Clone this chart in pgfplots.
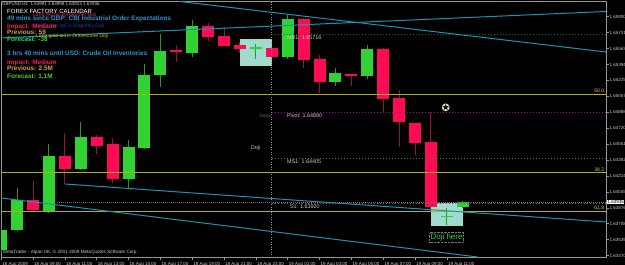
\documentclass[border=0pt]{standalone}
\usepackage{pgfplots}
\pgfplotsset{compat=1.18}
\usepackage{pgfplotstable}
\usepackage{fontspec}
\setmainfont{Liberation Sans}
\newfontfamily\symfont{DejaVu Sans}
\definecolor{bullc}{RGB}{50,210,50}
\definecolor{bearc}{RGB}{255,10,85}
\definecolor{bullw}{RGB}{40,150,40}
\definecolor{bearw}{RGB}{150,20,60}
\definecolor{framec}{RGB}{150,150,150}
\definecolor{trend}{RGB}{20,150,180}
\definecolor{fib}{RGB}{175,175,20}
\definecolor{fibtxt}{RGB}{200,200,60}
\definecolor{rectc}{RGB}{160,220,205}
\definecolor{calblue}{RGB}{40,150,210}
\definecolor{calred}{RGB}{240,30,80}
\definecolor{calgold}{RGB}{215,160,60}
\definecolor{calgreen}{RGB}{60,210,60}
\definecolor{lbl}{RGB}{200,200,200}
\definecolor{mrc}{RGB}{0,120,40}
\definecolor{pivc}{RGB}{170,0,170}
\definecolor{msc}{RGB}{60,120,110}
\definecolor{s1c}{RGB}{110,110,110}
\definecolor{bidc}{RGB}{130,90,100}
\definecolor{todayc}{RGB}{80,120,100}
\definecolor{starc}{RGB}{240,225,180}

\pgfplotstableread{
i o h l c
0 1.63430 1.63653 1.63409 1.63642
1 1.63642 1.64087 1.63631 1.63960
3 1.63843 1.64552 1.63822 1.64425
5 1.64288 1.64785 1.64277 1.64627
8 1.64182 1.64595 1.64076 1.64521
9 1.64510 1.65399 1.64500 1.65283
10 1.65283 1.65717 1.65156 1.65537
12 1.65516 1.65865 1.65473 1.65802
16 1.65568 1.65611 1.65452 1.65578
18 1.65473 1.65918 1.65452 1.65876
21 1.65209 1.65357 1.65166 1.65304
23 1.65272 1.65600 1.65241 1.65558
28 1.63785 1.63875 1.63695 1.63795
29 1.63886 1.63950 1.63875 1.63936
}\bull
\pgfplotstableread{
i o h l c
2 1.63960 1.64161 1.63843 1.63854
4 1.64425 1.64669 1.64129 1.64288
6 1.64627 1.64648 1.64447 1.64531
7 1.64552 1.64616 1.64140 1.64182
11 1.65547 1.65600 1.65420 1.65526
13 1.65802 1.65833 1.65643 1.65685
14 1.65696 1.65791 1.65590 1.65590
15 1.65600 1.65632 1.65516 1.65558
17 1.65569 1.65569 1.65463 1.65473
19 1.65876 1.65886 1.65357 1.65442
20 1.65452 1.65495 1.65092 1.65209
22 1.65293 1.65293 1.65166 1.65272
24 1.65558 1.65569 1.64881 1.65029
25 1.65039 1.65124 1.64521 1.64785
26 1.64775 1.64775 1.64436 1.64563
27 1.64574 1.64891 1.63854 1.63886
}\bear

\begin{document}
\begin{tikzpicture}
\useasboundingbox (0,0) rectangle (625pt,265pt);
\fill[black] (0,0) rectangle (625pt,265pt);
\begin{axis}[
  at={(1.2pt,7.5pt)}, anchor=south west,
  width=604.8pt, height=256.5pt, scale only axis,
  xmin=0, xmax=38, ymin=1.63351, ymax=1.66066,
  axis line style={draw=framec, line width=0.8pt},
  xtick={0,2,...,28},
  xticklabels={18 Aug 2009,18 Aug 09:00,18 Aug 11:00,18 Aug 13:00,18 Aug 15:00,18 Aug 17:00,18 Aug 19:00,18 Aug 21:00,18 Aug 23:00,19 Aug 01:00,19 Aug 03:00,19 Aug 05:00,19 Aug 07:00,19 Aug 09:00,19 Aug 11:00},
  ytick={1.65900,1.65731,1.65563,1.65394,1.65225,1.65057,1.64888,1.64720,1.64551,1.64382,1.64214,1.64045,1.63876,1.63708,1.63539,1.63370},
  yticklabels={1.65900,1.65731,1.65563,1.65394,1.65225,1.65057,1.64888,1.64720,1.64551,1.64382,1.64214,1.64045,1.63876,1.63708,1.63539,1.63370},
  xtick pos=bottom, ytick pos=right,
  tick align=outside, major tick length=3pt,
  tick style={draw=framec, line width=0.6pt},
  tick label style={font=\fontsize{4.5}{5}\selectfont, text=lbl, inner sep=0pt},
  xticklabel style={anchor=north west, xshift=1pt, yshift=-1.2pt},
  yticklabel style={anchor=west, xshift=0.5pt},
]
% rectangles
\addplot[fill=rectc, draw=none, forget plot] coordinates {(15,1.65378) (17,1.65378) (17,1.65664) (15,1.65664)};
\addplot[fill=rectc, draw=none, forget plot] coordinates {(27,1.63685) (29,1.63685) (29,1.63928) (27,1.63928)};
% wicks
\addplot[draw=none, forget plot, error bars/.cd, y dir=both, y explicit, error mark=none,
  error bar style={draw=bullw, line width=1pt}]
  table[x=i, y expr={(\thisrow{h}+\thisrow{l})/2}, y error expr={(\thisrow{h}-\thisrow{l})/2}] {\bull};
\addplot[draw=none, forget plot, error bars/.cd, y dir=both, y explicit, error mark=none,
  error bar style={draw=bearw, line width=1pt}]
  table[x=i, y expr={(\thisrow{h}+\thisrow{l})/2}, y error expr={(\thisrow{h}-\thisrow{l})/2}] {\bear};
% bodies
\addplot[draw=none, forget plot, error bars/.cd, y dir=both, y explicit, error mark=none,
  error bar style={draw=bullc, line width=12pt}]
  table[x=i, y expr={(\thisrow{o}+\thisrow{c})/2}, y error expr={(\thisrow{c}-\thisrow{o})/2}] {\bull};
\addplot[draw=none, forget plot, error bars/.cd, y dir=both, y explicit, error mark=none,
  error bar style={draw=bearc, line width=12pt}]
  table[x=i, y expr={(\thisrow{o}+\thisrow{c})/2}, y error expr={(\thisrow{o}-\thisrow{c})/2}] {\bear};
% vertical day separator
\addplot[framec, line width=0.7pt, dash pattern=on 1pt off 1.5pt] coordinates {(17,1.6335) (17,1.6607)};
% pivot levels
\addplot[mrc, line width=0.8pt, dash pattern=on 1pt off 2pt] coordinates {(17,1.65716) (38,1.65716)};
\addplot[pivc, line width=0.8pt, dash pattern=on 1pt off 2pt] coordinates {(17,1.64890) (38,1.64890)};
\addplot[msc, line width=0.8pt, dash pattern=on 1pt off 2pt] coordinates {(17,1.64405) (38,1.64405)};
\addplot[s1c, line width=0.8pt, dash pattern=on 1pt off 2pt] coordinates {(17,1.63920) (38,1.63920)};
\addplot[bidc, line width=0.6pt, dash pattern=on 1pt off 1pt] coordinates {(3.5,1.63936) (38,1.63936)};
% fibonacci levels
\addplot[fib, line width=0.9pt] coordinates {(0,1.65079) (38,1.65079)};
\addplot[fib, line width=0.9pt] coordinates {(0,1.64253) (38,1.64253)};
\addplot[fib, line width=0.9pt] coordinates {(0,1.63840) (38,1.63840)};
% trendlines
\addplot[trend, line width=1pt] coordinates {(11.23,1.66061) (38,1.65526)};
\addplot[trend, line width=1pt] coordinates {(0,1.65675) (38,1.65955)};
\addplot[trend, line width=1pt] coordinates {(0,1.63981) (29.95,1.63356)};
\addplot[trend, line width=1pt] coordinates {(4.01,1.64129) (38,1.63727)};
% labels inside chart
\node[anchor=west, inner sep=0pt, yshift=-3.3pt, font=\fontsize{5.4}{6}\selectfont, text=lbl] at (axis cs:17.95,1.65716) {MR1: 1.65716};
\node[anchor=west, inner sep=0pt, yshift=-3.3pt, font=\fontsize{5.4}{6}\selectfont, text=lbl] at (axis cs:17.95,1.64890) {Pivot: 1.64890};
\node[anchor=west, inner sep=0pt, yshift=-3.3pt, font=\fontsize{5.4}{6}\selectfont, text=lbl] at (axis cs:17.95,1.64405) {MS1: 1.64405};
\node[anchor=west, inner sep=0pt, yshift=-3.3pt, font=\fontsize{5.4}{6}\selectfont, text=lbl] at (axis cs:18.14,1.63920) {S1: 1.63920};
\node[inner sep=0pt, font=\fontsize{4.5}{5}\selectfont, text=todayc] at (axis cs:16.6,1.64849) {Today};
\node[inner sep=0pt, font=\fontsize{5.5}{6}\selectfont, text=lbl] at (axis cs:15.98,1.64510) {Doji};
\node[anchor=east, inner sep=0pt, font=\fontsize{5.1}{6}\selectfont, text=fibtxt] at (axis cs:37.9,1.65113) {50.0};
\node[anchor=east, inner sep=0pt, font=\fontsize{5.1}{6}\selectfont, text=fibtxt] at (axis cs:37.9,1.64277) {38.2};
\node[anchor=east, inner sep=0pt, font=\fontsize{5.1}{6}\selectfont, text=fibtxt] at (axis cs:37.9,1.63875) {61.8};
\node[inner sep=0pt, font=\symfont\fontsize{10}{10}\selectfont, text=starc] at (axis cs:27.94,1.64934) {✪};
\node[draw={rgb,255:red,120;green,120;blue,120}, densely dotted, inner sep=1pt, font=\fontsize{8}{9}\selectfont, text=bullc] at (axis cs:27.98,1.63568) {Doji here};
\end{axis}
% texts in image pixel coordinates (y from top)
\begin{scope}[shift={(0,265pt)}, every node/.style={inner sep=0pt, anchor=base west}]
\node[font=\fontsize{4.5}{5}\selectfont, text=lbl] at (2pt,-6pt) {GBPUSD,H1\ \ 1.63991 1.63998 1.63923 1.63936};
\node[font=\fontsize{5}{6}\selectfont, text=calred] at (33pt,-16.2pt) {Long red tail is Hammer Doji};
\node[font=\fontsize{6}{7}\selectfont, text=white] at (7pt,-14pt) {FOREX FACTORY CALENDAR};
\node[font=\bfseries\fontsize{6.4}{7}\selectfont, text=calblue] at (7pt,-20.7pt) {49 mins since GBP: CBI Industrial Order Expectations};
\node[font=\fontsize{5}{6}\selectfont, text={rgb,255:red,30;green,60;blue,200}] at (33pt,-27.8pt) {Long green tail is Dragonfly Doji};
\node[font=\bfseries\fontsize{6.4}{7}\selectfont, text=calred] at (7pt,-28.1pt) {Impact: Medium};
\node[font=\fontsize{5}{6}\selectfont, text={rgb,255:red,200;green,200;blue,40}] at (36pt,-37.8pt) {Long gold tail is Gravestone Doji};
\node[font=\bfseries\fontsize{6.4}{7}\selectfont, text=calgold] at (7pt,-34.7pt) {Previous: 59};
\node[font=\bfseries\fontsize{6.4}{7}\selectfont, text=calgreen] at (7pt,-41.7pt) {Forecast: -38};
\node[font=\bfseries\fontsize{6.4}{7}\selectfont, text=calblue] at (7pt,-55.7pt) {3 hrs 40 mins until USD: Crude Oil Inventories};
\node[font=\bfseries\fontsize{6.4}{7}\selectfont, text=calred] at (7pt,-64.1pt) {Impact: Medium};
\node[font=\bfseries\fontsize{6.4}{7}\selectfont, text=calgold] at (7pt,-70.7pt) {Previous: 2.5M};
\node[font=\bfseries\fontsize{6.4}{7}\selectfont, text=calgreen] at (7pt,-78.1pt) {Forecast: 1.1M};
\node[font=\fontsize{4.6}{5}\selectfont, text=lbl] at (3pt,-253.7pt) {MetaTrader - Alpari UK, © 2001-2009 MetaQuotes Software Corp.};
\node[font=\fontsize{4.5}{5}\selectfont, text=black, fill=white, inner sep=0.4pt, anchor=west] at (607pt,-202.2pt) {1.63936};
\end{scope}
\end{tikzpicture}
\end{document}
